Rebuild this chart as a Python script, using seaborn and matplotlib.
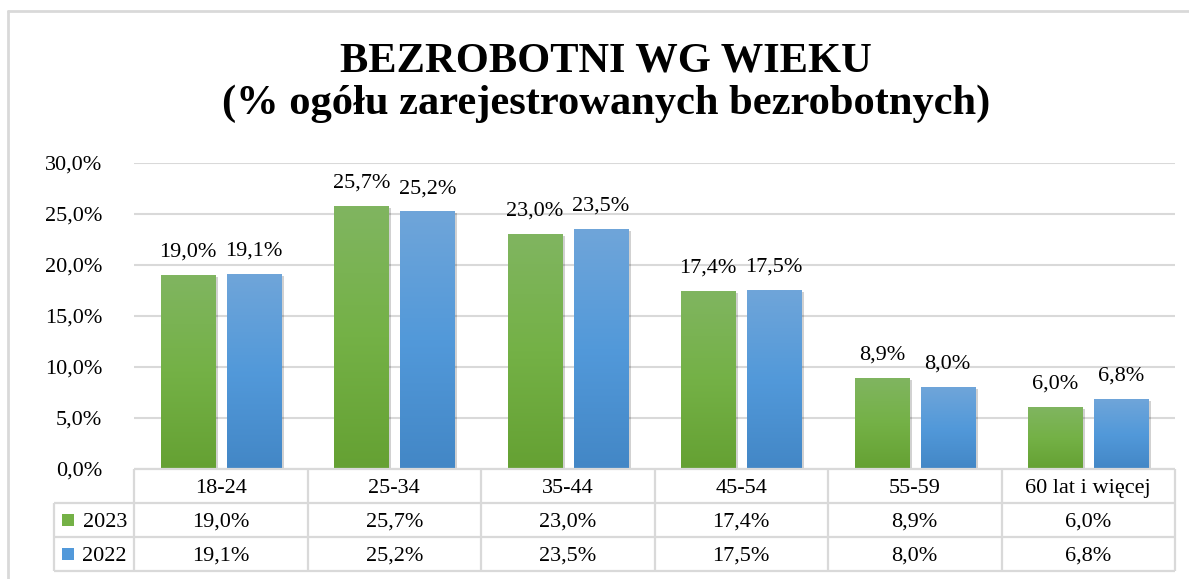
import numpy as np
import pandas as pd
import matplotlib
matplotlib.use("Agg")
import matplotlib.pyplot as plt
import matplotlib.patheffects as pe
from matplotlib.colors import LinearSegmentedColormap
from matplotlib.patches import Rectangle
from matplotlib.lines import Line2D
from matplotlib.ticker import FuncFormatter
import seaborn as sns

# dane
wiek = ["18-24", "25-34", "35-44", "45-54", "55-59", "60 lat i więcej"]
lata = ["2023", "2022"]
udzial_2023 = [19.0, 25.7, 23.0, 17.4, 8.9, 6.0]
udzial_2022 = [19.1, 25.2, 23.5, 17.5, 8.0, 6.8]

tytul1 = "BEZROBOTNI WG WIEKU"
tytul2 = "(% ogółu zarejestrowanych bezrobotnych)"

kolory = {"2023": "#6aa83a", "2022": "#4a8fd0"}
gradienty = {"2023": ["#65a133", "#74b146", "#80b560"],
             "2022": ["#4387c6", "#5299da", "#6fa5d9"]}
szary = "#d9d9d9"


def pl(v):
    return f"{v:.1f}%".replace(".", ",")


df = pd.DataFrame({
    "wiek": wiek * 2,
    "rok": ["2023"] * len(wiek) + ["2022"] * len(wiek),
    "udzial": udzial_2023 + udzial_2022,
})

sns.set_theme(style="white")
plt.rcParams["font.family"] = ["Liberation Serif", "DejaVu Serif"]

W, H = 1189, 579
fig = plt.figure(figsize=(W / 100, H / 100), dpi=100)
# obszar wykresu w pikselach: x 134..1175, y 163..469
ax = fig.add_axes([134 / W, 1 - 469 / H, (1175 - 134) / W, (469 - 163) / H])

sns.barplot(data=df, x="wiek", y="udzial", hue="rok", hue_order=lata,
            palette=kolory, width=0.76, gap=0.18, legend=False,
            linewidth=0, ax=ax, zorder=3)

# gradient + cien
for cont, rok in zip(ax.containers, lata):
    cmap = LinearSegmentedColormap.from_list(rok, gradienty[rok])
    for bar in cont:
        bar.set_path_effects([
            pe.SimplePatchShadow(offset=(2, -1), shadow_rgbFace="#000000", alpha=0.18),
            pe.Normal(),
        ])
        x0, y0, x1, y1 = bar.get_bbox().extents
        grad = np.linspace(0, 1, 100).reshape(-1, 1)
        ax.imshow(grad, extent=(x0, x1, y0, y1), origin="lower",
                  aspect="auto", cmap=cmap, zorder=4, interpolation="bilinear")
    ax.bar_label(cont, labels=[pl(v) for v in cont.datavalues],
                 padding=10, fontsize=16, color="#000000", zorder=5)

ax.set_xlim(-0.5, len(wiek) - 0.5)
ax.set_ylim(0, 30)
ax.set_yticks(np.arange(0, 30.1, 5))
ax.yaxis.set_major_formatter(FuncFormatter(lambda v, p: pl(v)))
ax.tick_params(axis="y", left=False, pad=17, labelsize=16, labelcolor="#000000")
ax.tick_params(axis="x", bottom=False, labelbottom=False)
ax.set_xlabel("")
ax.set_ylabel("")
ax.grid(axis="y", color=szary, linewidth=1.5, zorder=0)
ax.set_axisbelow(True)
for s in ax.spines.values():
    s.set_visible(False)

# tabela danych pod wykresem (os x wspolna z wykresem)
tax = fig.add_axes([134 / W, 1 - 571 / H, (1175 - 134) / W, (571 - 469) / H], sharex=ax)
tax.set_ylim(3, 0)
tax.axis("off")
lewa = -0.5 - 80 / 173.5  # lewa krawedz kolumny z etykietami wierszy
n = len(wiek)
tax.hlines(0, -0.5, n - 0.5, color=szary, lw=1.6, clip_on=False)
tax.hlines([1, 2, 3], lewa, n - 0.5, color=szary, lw=1.6, clip_on=False)
tax.vlines(np.arange(n + 1) - 0.5, 0, 3, color=szary, lw=1.6, clip_on=False)
tax.vlines(lewa, 1, 3, color=szary, lw=1.6, clip_on=False)

wiersze = [udzial_2023, udzial_2022]
for i, w in enumerate(wiek):
    tax.text(i, 0.5, w, ha="center", va="center_baseline", fontsize=16, color="#000000")
    for j, vals in enumerate(wiersze):
        tax.text(i, 1.5 + j, pl(vals[i]), ha="center", va="center_baseline",
                 fontsize=16, color="#000000")
for j, rok in enumerate(lata):
    tax.text(-0.5 - 7 / 173.5, 1.5 + j, rok, ha="right", va="center_baseline",
             fontsize=16, color="#000000", clip_on=False)
    tax.add_patch(Rectangle((-0.5 - 72 / 173.5, 1.5 + j - 6 / 34), 12 / 173.5, 12 / 34,
                            facecolor=gradienty[rok][1], edgecolor="none",
                            clip_on=False))

# tytul
tx = 606 / W
fig.text(tx, 1 - 72 / H, tytul1, ha="center", va="baseline",
         fontsize=30.6, fontweight="bold", color="#000000")
fig.text(tx, 1 - 114 / H, tytul2, ha="center", va="baseline",
         fontsize=30.6, fontweight="bold", color="#000000")

# ramka
fig.add_artist(Line2D([8 / W, 8 / W], [0, 1 - 11 / H], transform=fig.transFigure,
                      color=szary, linewidth=2))
fig.add_artist(Line2D([8 / W, 1], [1 - 11 / H, 1 - 11 / H], transform=fig.transFigure,
                      color=szary, linewidth=2))

fig.savefig("out.png", dpi=100, facecolor="white")
